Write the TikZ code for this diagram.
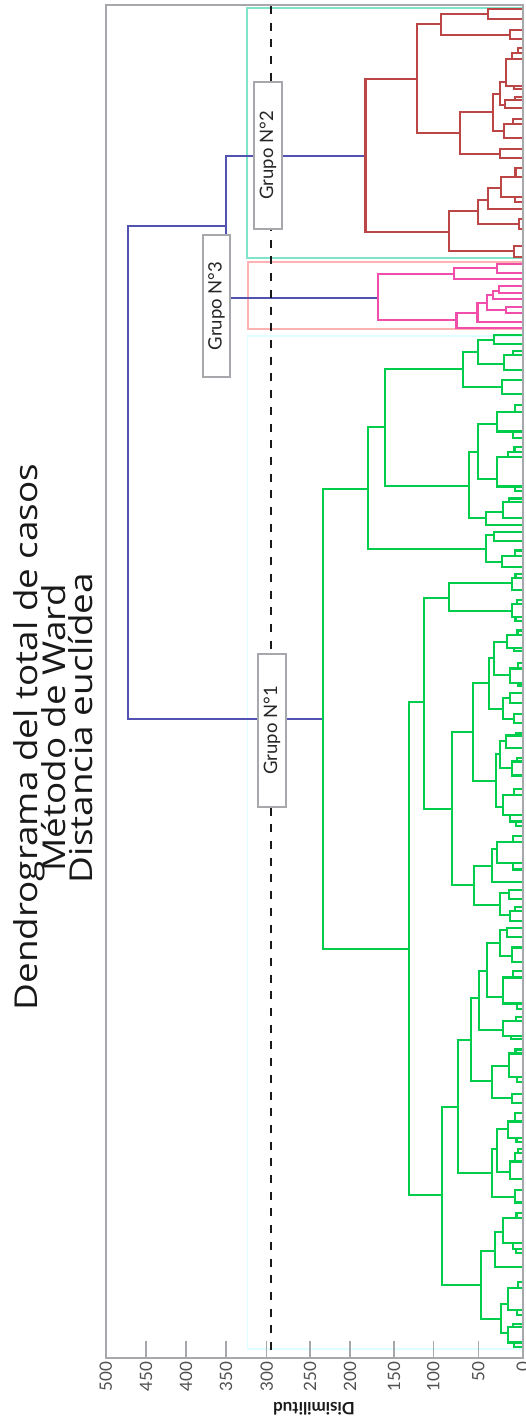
\documentclass[tikz,border=0pt]{standalone}
\usepackage{fontspec}
\setmainfont{Lato}
\newfontfamily\titlefont[FakeStretch=1.17]{Open Sans}
\definecolor{cgreen}{RGB}{0,205,75}
\definecolor{cred}{RGB}{188,70,70}
\definecolor{cpink}{RGB}{240,78,170}
\definecolor{cblue}{RGB}{82,82,178}
\definecolor{cteal}{RGB}{128,228,200}
\definecolor{cpinkbox}{RGB}{255,178,178}
\definecolor{ccyanbox}{RGB}{222,255,255}
\definecolor{cframe}{RGB}{166,168,171}
\definecolor{ctick}{RGB}{80,80,80}
\newcommand\dbr[5]{\draw (#3,#2) -- (#1,#2) -- (#1,#4) -- (#5,#4);}
\newcommand\dtx[4]{%
  \begingroup
  \pgfmathsetmacro\tyc{#1}\pgfmathsetmacro\tya{#2}\pgfmathsetmacro\tyb{#3}\pgfmathsetmacro\txh{#4}%
  \pgfmathsetmacro\tleaf{or((\tyb-\tya)<6.2,\txh>518.5)}%
  \ifdim\tleaf pt>0.5pt
    \draw (\txh,\tyc) -- (522,\tyc);
  \else
    \pgfmathsetmacro\tyu{\tyc-(\tyc-\tya)*(0.35+0.3*rnd)}%
    \pgfmathsetmacro\tyl{\tyc+(\tyb-\tyc)*(0.35+0.3*rnd)}%
    \pgfmathsetmacro\thu{\txh+(522-\txh)*(0.3+0.45*rnd)}%
    \pgfmathsetmacro\thl{\txh+(522-\txh)*(0.3+0.45*rnd)}%
    \draw (\thu,\tyu) -- (\txh,\tyu) -- (\txh,\tyl) -- (\thl,\tyl);
    \dtx{\tyu}{\tya}{\tyc}{\thu}%
    \dtx{\tyl}{\tyc}{\tyb}{\thl}%
  \fi
  \endgroup}
\tikzset{
  dend/.style={line width=2.2pt},
  clbox/.style={line width=1.7pt},
  grlabel/.style={draw=cframe, line width=1.7pt, fill=white, rotate=90, minimum width=147pt, minimum height=28pt, inner sep=0pt, font=\fontsize{18.5}{20}\selectfont, text=black!85},
  ticklab/.style={rotate=90, anchor=east, inner sep=0pt, font=\fontsize{17}{18}\selectfont, text=ctick},
  titlef/.style={rotate=90, anchor=base, inner sep=0pt, font=\titlefont\fontsize{31.5}{32}\selectfont, text=black!90},
}
\begin{document}
\begin{tikzpicture}[x=1pt,y=-1pt]
\pgfmathsetseed{7}
\useasboundingbox (0,0) rectangle (525,1423);
% cluster rectangles
\draw[clbox, draw=cteal] (247.3,7.7) rectangle (523,258.3);
\draw[clbox, draw=cpinkbox] (247.7,262.3) rectangle (523,329.3);
\draw[clbox, draw=ccyanbox] (247.5,336) rectangle (523,1349);
% blue top
\begin{scope}[dend, cblue]
\dbr{128}{226}{226}{719}{323.3}
\dbr{226}{155.7}{365.5}{298}{378.3}
\end{scope}
% red group
\begin{scope}[dend, cred]
\dbr{365.5}{79.3}{417.3}{231.7}{449.3}
\dbr{417.3}{24}{441}{133.3}{460}
\dbr{441}{14.3}{488.3}{34.7}{510}
\dbr{488.3}{9}{522}{19.3}{522}
\dbr{510}{30}{522}{39.3}{522}
\dbr{460}{112.3}{493.3}{154}{500}
\dbr{500}{149}{522}{158.3}{522}
\dbr{493.3}{94.3}{500}{131}{504}
\dbr{500}{81.7}{505.7}{105}{505}
\dtx{81.7}{44}{92}{505.7}
\dtx{105}{92}{113}{505}
\dtx{131}{114}{143}{504}
\dbr{449.3}{210.7}{478.3}{250.7}{514}
\dbr{478.3}{200}{488.3}{224}{519.3}
\dbr{488.3}{187.7}{500.7}{209.3}{522}
\dtx{187.7}{163}{205}{500.7}
\dbr{519.3}{219}{522}{229}{522}
\dbr{514}{246}{522}{256.7}{522}
\end{scope}
% pink group
\begin{scope}[dend, cpink]
\dbr{378.3}{274}{454.3}{320}{456.5}
\dbr{454.3}{268.3}{497.3}{279.3}{522}
\dbr{497.3}{264.3}{522}{272.7}{522}
\dbr{456.5}{313.3}{477.5}{328.3}{522}
\dbr{477.5}{302.7}{487.3}{321.7}{522}
\dbr{487.3}{295}{493.3}{310}{506}
\dbr{493.3}{290.7}{499.3}{299.3}{522}
\dbr{499.3}{286}{522}{293.3}{522}
\dbr{506}{306.7}{522}{313.3}{522}
\end{scope}
% green group
\begin{scope}[dend, cgreen]
\dbr{323.3}{489.3}{368.3}{949.3}{409.3}
\dbr{368.3}{427.3}{385}{549.3}{485.7}
\dbr{385}{369.3}{462.7}{486}{469.3}
\dbr{462.7}{352.3}{477.7}{386.7}{501.7}
\dbr{477.7}{340}{494.3}{364.3}{504}
\dbr{494.3}{335}{522}{344}{522}
\dtx{364.3}{348}{374}{504}
\dtx{386.7}{375}{398}{501.7}
\dbr{469.3}{451.7}{477.7}{518.3}{485.7}
\dbr{477.7}{424.3}{496.7}{479.3}{496.7}
\dtx{424.3}{399}{442}{496.7}
\dtx{479.3}{443}{494}{496.7}
\dbr{485.7}{511.7}{503.3}{525}{522}
\dtx{511.7}{495}{521}{503.3}
\dbr{485.7}{535}{494}{562.3}{502.3}
\dbr{494}{531.7}{522}{541}{522}
\dtx{562.3}{545}{570}{502.3}
\dbr{409.3}{702.3}{424}{1195}{441.7}
\dbr{424}{597.7}{449}{809.3}{451.7}
\dbr{449}{583.3}{512.3}{610.7}{512.3}
\dtx{583.3}{571}{594}{512.3}
\dtx{610.7}{595}{624}{512.3}
\dbr{451.7}{731.7}{472.7}{885}{474}
\dbr{472.7}{683.3}{489.3}{780.7}{495.7}
\dbr{489.3}{657.7}{494}{709.3}{503.3}
\dbr{494}{641.7}{507.3}{675}{510}
\dtx{641.7}{625}{657}{507.3}
\dtx{675}{658}{689}{510}
\dbr{503.3}{698.3}{510}{719}{514}
\dtx{698.3}{690}{708}{510}
\dtx{719}{709}{728}{514}
\dbr{495.7}{754.3}{500}{806.7}{502.7}
\dbr{500}{741}{506}{768.3}{512.3}
\dtx{741}{729}{753}{506}
\dtx{768.3}{754}{784}{512.3}
\dtx{806.7}{785}{830}{502.7}
\dbr{474}{865.7}{491.7}{905}{500}
\dbr{491.7}{849.3}{497.3}{881.7}{522}
\dtx{849.3}{831}{874}{497.3}
\dbr{500}{893.3}{509}{915}{510}
\dtx{893.3}{886}{903}{509}
\dtx{915}{904}{925}{510}
\dbr{441.7}{1106.7}{457.7}{1285}{481}
\dbr{457.7}{1040}{470.7}{1173.3}{491.7}
\dbr{470.7}{997.7}{479}{1080.7}{492.3}
\dbr{479}{970.7}{486.7}{1030}{503.3}
\dbr{486.7}{943.3}{500}{996.7}{503.3}
\dbr{500}{930}{506.7}{955.7}{511.7}
\dtx{930}{926}{941}{506.7}
\dtx{955.7}{942}{966}{511.7}
\dtx{996.7}{967}{1013}{503.3}
\dtx{1030}{1014}{1043}{503.3}
\dbr{492.3}{1065.7}{509}{1097.7}{511.7}
\dtx{1065.7}{1044}{1087}{509}
\dtx{1097.7}{1088}{1107}{511.7}
\dbr{491.7}{1149}{496.7}{1197.3}{515}
\dbr{496.7}{1129.3}{507.7}{1171.7}{510}
\dtx{1129.3}{1108}{1145}{507.7}
\dtx{1171.7}{1146}{1184}{510}
\dtx{1197.3}{1185}{1206}{515}
\dbr{481}{1250.7}{495}{1319.3}{501}
\dbr{495}{1231.7}{503.3}{1267.3}{522}
\dtx{1231.7}{1207}{1258}{503.3}
\dbr{501}{1304.3}{507.7}{1333.3}{508.3}
\dtx{1304.3}{1272}{1319}{507.7}
\dtx{1333.3}{1320}{1349}{508.3}
\end{scope}
% cut line
\coordinate (cuttop) at (271,6);
\coordinate (cutbot) at (271,1357);
\draw[line width=2pt, black!90, dash pattern=on 8pt off 8.7pt] (cuttop) -- (cutbot);
% group labels
\node[grlabel] (g2) at (268,155.5) {Grupo N°2};
\node[grlabel, minimum width=142pt, minimum height=27pt] (g3) at (216.5,306) {Grupo N°3};
\node[grlabel, minimum width=153pt] (g1) at (272,730.5) {Grupo N°1};
% frame and axis
\draw[cframe, line width=1.7pt] (105.7,5) rectangle (522.7,1357.7);
\foreach \tx/\tl in {105.7/500,146/450,186/400,226/350,266.7/300,310/250,350/200,394/150,433.3/100,478.3/50,522.7/0}{
  \draw[cframe, line width=1.5pt] (\tx,1341) -- (\tx,1357.7);
  \node[ticklab] (tk\tl) at (\tx,1361.5) {\tl};
}
\node[rotate=180, inner sep=0pt, font=\bfseries\fontsize{17}{18}\selectfont, text=black!90] (ylab) at (314,1409) {Disimilitud};
% title
\node[titlef] (t1) at (37,737) {Dendrograma del total de casos};
\node[titlef] (t2) at (65,728) {Método de Ward};
\node[titlef] (t3) at (92,728) {Distancia euclídea};
\end{tikzpicture}
\end{document}
